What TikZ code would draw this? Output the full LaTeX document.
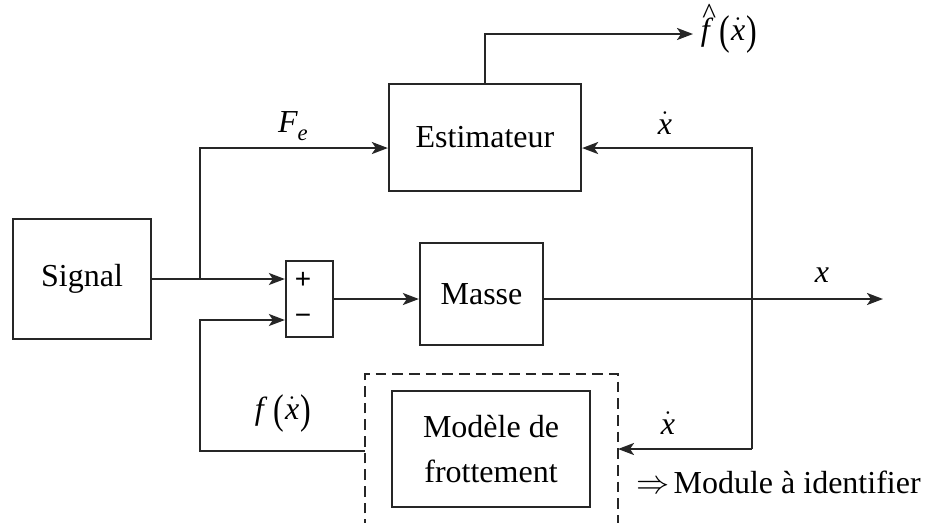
\documentclass[tikz,border=0pt]{standalone}
\usepackage{fontspec}
\setmainfont{Liberation Serif}
\newfontfamily\signfont{Liberation Sans}
\usetikzlibrary{arrows.meta,calc}

% italic variable, dotted variable, tall parentheses
\newcommand{\ivar}[1]{\mbox{\itshape #1}}
\newcommand{\dvar}[1]{$\dot{\ivar{#1}}$}
\newcommand{\lpar}{\raisebox{-0.12em}{\scalebox{1}[1.3]{(}}}
\newcommand{\rpar}{\raisebox{-0.12em}{\scalebox{1}[1.3]{)}}}
\newcommand{\hatf}{\ooalign{\itshape f\cr\hidewidth\kern6pt\raisebox{12.5pt}{\fontsize{22}{22}\selectfont\textasciicircum}\hidewidth\cr}}

\begin{document}
\begin{tikzpicture}[x=0.75pt,y=-0.75pt,
  line width=1.7pt,
  every node/.style={font=\fontsize{24}{34}\selectfont},
  blockbox/.style={draw=black!85, line width=1.7pt, inner sep=0pt},
  arr/.style={draw=black!85, -{Stealth[length=12pt,width=9pt,inset=3pt]}},
  wire/.style={draw=black!85},
  lbl/.style={inner sep=1pt},
  frame/.style={draw=black!85, line width=1.4pt, dash pattern=on 8pt off 4.5pt}]

\useasboundingbox (0,0) rectangle (928,522);

% blocks
\node[blockbox, minimum width=138*0.75pt, minimum height=120*0.75pt] (signal) at (82,279) {Signal};
\node[blockbox, minimum width=47*0.75pt, minimum height=76*0.75pt] (sum) at (309.5,299) {};
\node[blockbox, minimum width=123*0.75pt, minimum height=102*0.75pt] (masse) at (481.5,294) {Masse};
\node[blockbox, minimum width=192*0.75pt, minimum height=107*0.75pt] (est) at (485,137.5) {Estimateur};
\node[blockbox, minimum width=198*0.75pt, minimum height=116*0.75pt, align=center] (modele) at (491,449) {Modèle de\\frottement};

% signs of the summing junction
\node[font=\signfont\fontsize{21}{21}\selectfont] (plussign) at (303,280) {+};
\node[font=\signfont\fontsize{21}{21}\selectfont] (minussign) at (303,319) {−};

% dashed frame around the friction model (open at the bottom)
\coordinate (dl) at (365,374);
\coordinate (dr) at (618,374);
\draw[frame] (365,530) -- (dl) -- (dr) -- (618,530);

% reference points
\coordinate (j) at (200,279);
\coordinate (plusin) at ([yshift=15pt]sum.west);
\coordinate (minusin) at ([yshift=-15.75pt]sum.west);
\coordinate (estin) at ([yshift=-7.9pt]est.west);
\coordinate (estfb) at ([yshift=-7.9pt]est.east);
\coordinate (fbbot) at (752,449);
\coordinate (out) at (883,299);
\coordinate (fhat) at (693,34);
\coordinate (fin) at (365,451);

% connectors
\draw[wire] (signal.east |- j) -- (j);
\draw[arr] (j) -- (plusin);
\draw[arr] (j) |- (estin);
\draw[arr] (sum.east) -- (sum.east -| masse.west);
\draw[arr] (masse.east |- sum.east) -- (out);
\draw[arr] (fbbot) |- (estfb);
\draw[arr] (fbbot) -- (fbbot -| dr);
\draw[arr] (fin) -| (j |- minusin) -- (minusin);
\draw[arr] (est.north) |- (fhat);

% signal labels
\node[lbl] (lfe) at (293,126) {\ivar{F}\raisebox{-0.5ex}{\fontsize{17}{17}\selectfont\itshape e}};
\node[lbl] (lxd1) at (665,123) {\dvar{x}};
\node[lbl] (lx) at (822,275) {\ivar{x}};
\node[lbl] (lf) at (283,413) {\ivar{f}\kern7pt\lpar\kern1pt\dvar{x}\kern1pt\rpar};
\node[lbl] (lxd2) at (668,423) {\dvar{x}};
\node[lbl, anchor=west] (lfhat) at ([xshift=4pt]fhat) {\hatf\kern7pt\lpar\kern1pt\dvar{x}\kern1pt\rpar};
\node[lbl, anchor=west] (lmod) at (634,482) {$\Rightarrow$\kern3pt Module à identifier};

\end{tikzpicture}
\end{document}
